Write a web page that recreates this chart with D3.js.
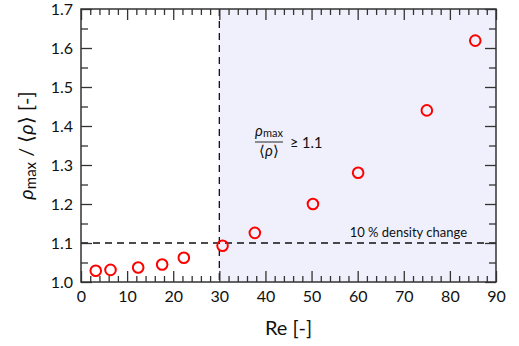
<!DOCTYPE html>
<html><head><meta charset="utf-8">
<script src="https://cdn.jsdelivr.net/npm/d3@7"></script>
<style>body{margin:0;background:#fff}text{font-family:Lato,"Open Sans",sans-serif;fill:#111}</style>
</head><body>
<svg id="c" width="519" height="346"></svg>
<script>
const re = [3.2, 6.4, 12.4, 17.6, 22.3, 30.7, 37.7, 50.3, 60.1, 75.0, 85.5];
const rho = [1.029, 1.031, 1.037, 1.045, 1.062, 1.093, 1.126, 1.200, 1.280, 1.440, 1.619];
const xTicks = [0,10,20,30,40,50,60,70,80,90];
const yTicks = [1.0,1.1,1.2,1.3,1.4,1.5,1.6,1.7];
const threshRe = 30, threshRho = 1.1;

const svg = d3.select("#c");
const L=81, R=496, T=9, B=282;
const x = d3.scaleLinear().domain([0,90]).range([L,R]);
const y = d3.scaleLinear().domain([1.0,1.7]).range([B,T]);

// shaded region
svg.append("rect").attr("x",x(threshRe)).attr("y",T).attr("width",x(90)-x(threshRe)).attr("height",B-T).attr("fill","#eff0fb");

// dashed lines
svg.append("line").attr("x1",x(threshRe)).attr("x2",x(threshRe)).attr("y1",T).attr("y2",B)
  .attr("stroke","#111").attr("stroke-width",1.3).attr("stroke-dasharray","7,5");
svg.append("line").attr("x1",x(0)).attr("x2",x(90)).attr("y1",y(threshRho)).attr("y2",y(threshRho))
  .attr("stroke","#111").attr("stroke-width",1.3).attr("stroke-dasharray","7,5");

// axes
const minorX = d3.range(0,91,2).filter(v=>v%10!==0);
const minorY = d3.range(1.05,1.7,0.1);
const ax = (g)=>{g.select(".domain").remove(); g.selectAll("line").attr("stroke","#333").attr("stroke-width",1.3);};
svg.append("g").attr("transform",`translate(0,${B})`).call(d3.axisBottom(x).tickValues(xTicks).tickSize(-11).tickPadding(20).tickFormat(d3.format("d"))).call(ax)
  .selectAll("text").attr("font-size",16).attr("dy","0").attr("fill","#1a1a1a");
svg.append("g").attr("transform",`translate(0,${B})`).call(d3.axisBottom(x).tickValues(minorX).tickSize(-6).tickFormat("")).call(ax);
svg.append("g").attr("transform",`translate(0,${T})`).call(d3.axisTop(x).tickValues(xTicks).tickSize(-11).tickFormat("")).call(ax);
svg.append("g").attr("transform",`translate(0,${T})`).call(d3.axisTop(x).tickValues(minorX).tickSize(-6).tickFormat("")).call(ax);
svg.append("g").attr("transform",`translate(${L},0)`).call(d3.axisLeft(y).tickValues(yTicks).tickSize(-11).tickPadding(8).tickFormat(d3.format(".1f"))).call(ax)
  .selectAll("text").attr("font-size",16).attr("fill","#1a1a1a");
svg.append("g").attr("transform",`translate(${L},0)`).call(d3.axisLeft(y).tickValues(minorY).tickSize(-7).tickFormat("")).call(ax);
svg.append("g").attr("transform",`translate(${R},0)`).call(d3.axisRight(y).tickValues(yTicks).tickSize(-11).tickFormat("")).call(ax);
svg.append("g").attr("transform",`translate(${R},0)`).call(d3.axisRight(y).tickValues(minorY).tickSize(-7).tickFormat("")).call(ax);
svg.append("rect").attr("x",L).attr("y",T).attr("width",R-L).attr("height",B-T).attr("fill","none").attr("stroke","#333").attr("stroke-width",1.5);

// points
svg.append("g").selectAll("circle").data(re.map((r,i)=>[r,rho[i]])).join("circle")
  .attr("cx",d=>x(d[0])).attr("cy",d=>y(d[1])).attr("r",5.3)
  .attr("fill","none").attr("stroke","#ff0000").attr("stroke-width",2);

// annotations
svg.append("text").attr("x",467).attr("y",y(threshRho)-6).attr("text-anchor","end").attr("font-size",13).text("10 % density change");
const fx=269;
const num = svg.append("text").attr("x",fx).attr("y",136).attr("text-anchor","middle").attr("font-size",15);
num.append("tspan").attr("font-style","italic").text("ρ");
num.append("tspan").attr("font-size",11).attr("dy",1).text("max");
svg.append("line").attr("x1",255).attr("x2",283).attr("y1",142).attr("y2",142).attr("stroke","#111").attr("stroke-width",0.9);
const den = svg.append("text").attr("x",fx).attr("y",156).attr("text-anchor","middle").attr("font-size",15);
den.append("tspan").text("⟨");
den.append("tspan").attr("font-style","italic").text("ρ");
den.append("tspan").text("⟩");
svg.append("text").attr("x",290).attr("y",148).attr("font-size",14.5).text("≥ 1.1");

// axis labels
svg.append("text").attr("x",(L+R)/2).attr("y",335).attr("text-anchor","middle").attr("font-size",20).text("Re [-]");
const yl = svg.append("text").attr("transform",`translate(33,${(T+B)/2}) rotate(-90)`).attr("text-anchor","middle").attr("font-size",20);
yl.append("tspan").attr("font-style","italic").text("ρ");
yl.append("tspan").attr("font-size",15).attr("dy",3).text("max");
yl.append("tspan").attr("dy",-3).text(" / ⟨");
yl.append("tspan").attr("font-style","italic").text("ρ");
yl.append("tspan").text("⟩ [-]");
</script>
</body></html>
